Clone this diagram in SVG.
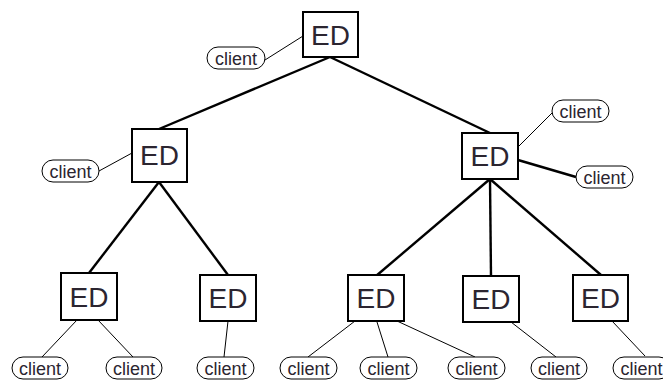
<svg xmlns="http://www.w3.org/2000/svg" width="663" height="380" viewBox="0 0 663 380">
  <style>
    .ed rect { fill: #ffffff; stroke: #000000; stroke-width: 2; }
    .ed text { font-family: "Liberation Sans", Arial, sans-serif; font-size: 28px; fill: #2b2530; text-anchor: middle; }
    .cl rect { fill: #ffffff; stroke: #000000; stroke-width: 1; }
    .cl text { font-family: "Liberation Sans", Arial, sans-serif; font-size: 18px; fill: #2b2530; text-anchor: middle; }
    .trunk line { stroke: #000000; stroke-width: 2.4; }
    .leaf line { stroke: #000000; stroke-width: 1; }
  </style>
  <rect width="663" height="380" fill="#ffffff"/>

  <!-- connectors -->
  <g id="connectors">
    <g class="trunk">
      <line x1="330" y1="57" x2="159" y2="129"/>
      <line x1="330" y1="57" x2="490" y2="133"/>
      <line x1="159" y1="182" x2="89" y2="273"/>
      <line x1="159" y1="182" x2="228" y2="275"/>
      <line x1="490" y1="179" x2="376" y2="276"/>
      <line x1="490" y1="179" x2="491" y2="276"/>
      <line x1="490" y1="179" x2="601" y2="275"/>
      <line x1="518" y1="160" x2="576" y2="177"/>
    </g>
    <g class="leaf">
      <line x1="265" y1="60" x2="303" y2="36"/>
      <line x1="99" y1="171" x2="132" y2="153"/>
      <line x1="518" y1="147" x2="553" y2="112"/>
      <line x1="77" y1="320" x2="42" y2="357"/>
      <line x1="98" y1="320" x2="133" y2="357"/>
      <line x1="228" y1="321" x2="224" y2="357"/>
      <line x1="355" y1="321" x2="308" y2="357"/>
      <line x1="377" y1="322" x2="388" y2="357"/>
      <line x1="397" y1="321" x2="475" y2="357"/>
      <line x1="511" y1="322" x2="556" y2="357"/>
      <line x1="612" y1="321" x2="645" y2="356"/>
    </g>
  </g>

  <!-- ED nodes -->
  <g id="ed-root" class="ed"><rect x="303" y="12" width="55" height="45"/><text x="330.5" y="44.5">ED</text></g>
  <g id="ed-left" class="ed"><rect x="132" y="129" width="55" height="53"/><text x="159.5" y="165">ED</text></g>
  <g id="ed-right" class="ed"><rect x="462" y="133" width="56" height="46"/><text x="490" y="166">ED</text></g>
  <g id="ed-b1" class="ed"><rect x="61" y="273" width="56" height="47"/><text x="89" y="306.5">ED</text></g>
  <g id="ed-b2" class="ed"><rect x="200" y="275" width="56" height="46"/><text x="228" y="308">ED</text></g>
  <g id="ed-b3" class="ed"><rect x="348" y="275" width="56" height="46"/><text x="376" y="308">ED</text></g>
  <g id="ed-b4" class="ed"><rect x="463" y="276" width="56" height="46"/><text x="491" y="309">ED</text></g>
  <g id="ed-b5" class="ed"><rect x="573" y="275" width="55" height="46"/><text x="600.5" y="308">ED</text></g>

  <!-- client nodes -->
  <g id="client-root" class="cl"><rect x="207" y="47" width="58" height="22" rx="11"/><text x="236" y="64.5">client</text></g>
  <g id="client-left" class="cl"><rect x="42" y="160" width="57" height="22" rx="11"/><text x="70.5" y="177.5">client</text></g>
  <g id="client-right-a" class="cl"><rect x="552" y="100" width="57" height="22" rx="11"/><text x="580.5" y="117.5">client</text></g>
  <g id="client-right-b" class="cl"><rect x="576" y="166" width="57" height="22" rx="11"/><text x="604.5" y="183.5">client</text></g>
  <g id="client-b1" class="cl"><rect x="12" y="357" width="56" height="22" rx="11"/><text x="40" y="374.5">client</text></g>
  <g id="client-b2" class="cl"><rect x="106" y="357" width="56" height="22" rx="11"/><text x="134" y="374.5">client</text></g>
  <g id="client-b3" class="cl"><rect x="197" y="357" width="57" height="22" rx="11"/><text x="225.5" y="374.5">client</text></g>
  <g id="client-b4" class="cl"><rect x="280" y="357" width="57" height="22" rx="11"/><text x="308.5" y="374.5">client</text></g>
  <g id="client-b5" class="cl"><rect x="360" y="357" width="57" height="22" rx="11"/><text x="388.5" y="374.5">client</text></g>
  <g id="client-b6" class="cl"><rect x="448" y="357" width="57" height="22" rx="11"/><text x="476.5" y="374.5">client</text></g>
  <g id="client-b7" class="cl"><rect x="531" y="357" width="56" height="22" rx="11"/><text x="559" y="374.5">client</text></g>
  <g id="client-b8" class="cl"><rect x="613" y="357" width="57" height="22" rx="11"/><text x="641.5" y="374.5">client</text></g>
</svg>
